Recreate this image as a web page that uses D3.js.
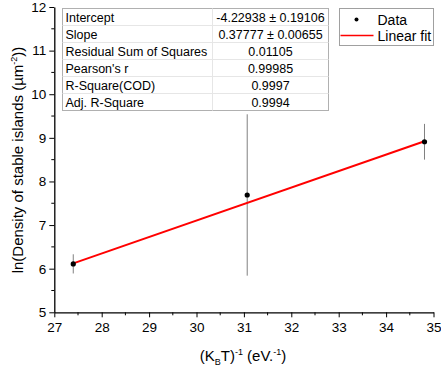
<!DOCTYPE html>
<html>
<head>
<meta charset="utf-8">
<script src="https://cdn.jsdelivr.net/npm/d3@7"></script>
<style>
  body { margin: 0; background: #fff; }
  svg { font-family: "Liberation Sans", Arial, sans-serif; }
</style>
</head>
<body>
<svg id="chart" width="441" height="372"></svg>
<script>
// data
var xs = [27.4, 31.07, 34.81],
    ys = [6.11, 7.69, 8.91],
    errs = [0.22, 1.85, 0.41];

var intercept = -4.22938,
    slope = 0.37777;

var tableLabels = ['Intercept', 'Slope', 'Residual Sum of Squares', "Pearson's r", 'R-Square(COD)', 'Adj. R-Square'],
    tableValues = ['-4.22938 \u00b1 0.19106', '0.37777 \u00b1 0.00655', '0.01105', '0.99985', '0.9997', '0.9994'];

var xTicks = [27, 28, 29, 30, 31, 32, 33, 34, 35],
    yTicks = [5, 6, 7, 8, 9, 10, 11, 12];

var svg = d3.select('#chart');

var x = d3.scaleLinear().domain([27, 35]).range([54.3, 433.5]),
    y = d3.scaleLinear().domain([5, 12]).range([312.3, 7]);

// minor ticks
var xMinor = d3.range(27.5, 35, 1),
    yMinor = d3.range(5.5, 12, 1);

svg.append('g').selectAll('line').data(xMinor).enter().append('line')
    .attr('x1', function(d) { return x(d); }).attr('x2', function(d) { return x(d); })
    .attr('y1', y(5)).attr('y2', y(5) + 3)
    .attr('stroke', '#000');

svg.append('g').selectAll('line').data(yMinor).enter().append('line')
    .attr('y1', function(d) { return y(d); }).attr('y2', function(d) { return y(d); })
    .attr('x1', x(27)).attr('x2', x(27) - 3)
    .attr('stroke', '#000');

var xAxis = svg.append('g')
    .attr('transform', 'translate(0,' + y(5) + ')')
    .call(d3.axisBottom(x).tickValues(xTicks).tickFormat(d3.format('d'))
        .tickSize(5).tickSizeOuter(0).tickPadding(5));

var yAxis = svg.append('g')
    .attr('transform', 'translate(' + x(27) + ',0)')
    .call(d3.axisLeft(y).tickValues(yTicks).tickFormat(d3.format('d'))
        .tickSize(5).tickSizeOuter(0).tickPadding(3));

[xAxis, yAxis].forEach(function(a) {
    a.selectAll('text').attr('font-size', 13.5).attr('fill', '#000')
        .style('font-family', '"Liberation Sans", Arial, sans-serif');
    a.select('.domain').attr('stroke-width', 1.3);
});

// error bars
svg.append('g').selectAll('line').data(xs).enter().append('line')
    .attr('x1', function(d) { return x(d); })
    .attr('x2', function(d) { return x(d); })
    .attr('y1', function(d, i) { return y(ys[i] + errs[i]); })
    .attr('y2', function(d, i) { return y(ys[i] - errs[i]); })
    .attr('stroke', '#808080')
    .attr('stroke-width', 1);

// linear fit
var fitX = [xs[0], xs[xs.length - 1]];
svg.append('line')
    .attr('x1', x(fitX[0])).attr('y1', y(intercept + slope * fitX[0]))
    .attr('x2', x(fitX[1])).attr('y2', y(intercept + slope * fitX[1]))
    .attr('stroke', '#ff0000')
    .attr('stroke-width', 2);

// points
svg.append('g').selectAll('circle').data(xs).enter().append('circle')
    .attr('cx', function(d) { return x(d); })
    .attr('cy', function(d, i) { return y(ys[i]); })
    .attr('r', 2.6)
    .attr('fill', '#000');

// stats table
var tx = 62.5, ty = 8.5, rowH = 17, col1 = 150, col2 = 116;
var table = svg.append('g');
table.append('rect')
    .attr('x', tx).attr('y', ty)
    .attr('width', col1 + col2).attr('height', rowH * tableLabels.length)
    .attr('fill', '#fff').attr('stroke', '#b0b0b0');
table.selectAll('line.row').data(d3.range(1, tableLabels.length)).enter().append('line')
    .attr('x1', tx).attr('x2', tx + col1 + col2)
    .attr('y1', function(d) { return ty + d * rowH; })
    .attr('y2', function(d) { return ty + d * rowH; })
    .attr('stroke', '#e6e6e6');
table.append('line')
    .attr('x1', tx + col1).attr('x2', tx + col1)
    .attr('y1', ty).attr('y2', ty + rowH * tableLabels.length)
    .attr('stroke', '#e6e6e6');
table.selectAll('text.lab').data(tableLabels).enter().append('text')
    .text(function(d) { return d; })
    .attr('x', tx + 3)
    .attr('y', function(d, i) { return ty + i * rowH + 13; })
    .attr('font-size', 12.5);
table.selectAll('text.val').data(tableValues).enter().append('text')
    .text(function(d) { return d; })
    .attr('x', tx + col1 + col2 / 2)
    .attr('y', function(d, i) { return ty + i * rowH + 13; })
    .attr('text-anchor', 'middle')
    .attr('font-size', 12.5);

// legend
var lg = svg.append('g').attr('transform', 'translate(339.5,8.5)');
lg.append('rect').attr('width', 94).attr('height', 37)
    .attr('fill', '#fff').attr('stroke', '#a0a0a0');
lg.append('circle').attr('cx', 17).attr('cy', 11).attr('r', 2).attr('fill', '#000');
lg.append('text').text('Data').attr('x', 38).attr('y', 16).attr('font-size', 14);
lg.append('line').attr('x1', 1).attr('x2', 34).attr('y1', 27).attr('y2', 27)
    .attr('stroke', '#ff0000').attr('stroke-width', 1.5);
lg.append('text').text('Linear fit').attr('x', 38).attr('y', 32).attr('font-size', 14);

// axis titles
var xt = svg.append('text')
    .attr('x', 243).attr('y', 361)
    .attr('text-anchor', 'middle')
    .attr('font-size', 15);
xt.append('tspan').text('(K');
xt.append('tspan').text('B').attr('font-size', 9).attr('dy', 4);
xt.append('tspan').text('T)').attr('dy', -4);
xt.append('tspan').text('-1').attr('font-size', 9).attr('dy', -6);
xt.append('tspan').text(' (eV.').attr('dy', 6);
xt.append('tspan').text('-1').attr('font-size', 9).attr('dy', -6);
xt.append('tspan').text(')').attr('dy', 6);

var yt = svg.append('text')
    .attr('transform', 'translate(23,' + 160 + ') rotate(-90)')
    .attr('text-anchor', 'middle')
    .attr('font-size', 15);
yt.append('tspan').text('ln(Density of stable islands (\u00b5m');
yt.append('tspan').text('-2').attr('font-size', 9).attr('dy', -6);
yt.append('tspan').text('))').attr('dy', 6);
</script>
</body>
</html>
